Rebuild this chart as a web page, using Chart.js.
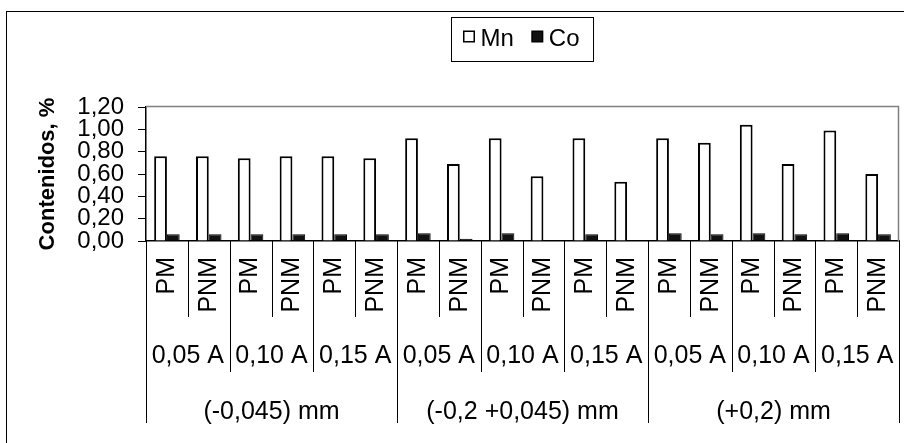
<!DOCTYPE html>
<html>
<head>
<meta charset="utf-8">
<script src="https://cdn.jsdelivr.net/npm/chart.js@4/dist/chart.umd.min.js"></script>
<style>
  body { margin: 0; background: #fff; }
  canvas { display: block; }
</style>
</head>
<body>
<canvas id="grafico" width="904" height="443"></canvas>
<script>
// niveles del eje de categorias
const tipos = ['PM', 'PNM'];
const corrientes = ['0,05 A', '0,10 A', '0,15 A'];
const fracciones = ['(-0,045) mm', '(-0,2 +0,045) mm', '(+0,2) mm'];

// contenidos en %
const mnValues = [0.76, 0.76, 0.74, 0.76, 0.76, 0.74,
                  0.92, 0.69, 0.92, 0.58, 0.92, 0.53,
                  0.92, 0.88, 1.04, 0.69, 0.99, 0.60];
const coValues = [0.06, 0.06, 0.06, 0.06, 0.06, 0.06,
                  0.07, 0.02, 0.07, 0.00, 0.06, 0.00,
                  0.07, 0.06, 0.07, 0.06, 0.07, 0.06];

const yTicks = { min: 0, max: 1.2, step: 0.2 };

const FONT = '"Liberation Sans", Arial, sans-serif';

const corrienteLabels = fracciones.flatMap(() => corrientes);
const tipoLabels = corrienteLabels.flatMap(() => tipos);

function fixedHeight(h){
    return function(scale){
        scale.height = h;
        scale.paddingLeft = 0;
        scale.paddingRight = 0;
    };
}

// marco exterior y borde gris del area del grafico
const marco = {
    id: 'marco',
    beforeDraw(chart){
        let ctx = chart.ctx;
        ctx.save();
        ctx.fillStyle = '#fff';
        ctx.fillRect(0, 0, chart.width, chart.height);
        ctx.strokeStyle = '#000';
        ctx.lineWidth = 1;
        ctx.strokeRect(6.5, 11.5, chart.width + 20, chart.height + 20);
        ctx.restore();
    },
    beforeDatasetsDraw(chart){
        let ctx = chart.ctx;
        let a = chart.chartArea;
        ctx.save();
        ctx.strokeStyle = '#808080';
        ctx.lineWidth = 1.5;
        ctx.beginPath();
        ctx.moveTo(a.left, a.top - 0.5);
        ctx.lineTo(a.right - 0.5, a.top - 0.5);
        ctx.lineTo(a.right - 0.5, a.bottom);
        ctx.stroke();
        ctx.restore();
    }
};

// lineas divisorias del eje de categorias por niveles
const divisiones = {
    id: 'divisiones',
    afterDraw(chart){
        let ctx = chart.ctx;
        let x = chart.scales.x, x2 = chart.scales.x2, x3 = chart.scales.x3;
        let porPar = tipoLabels.length / corrienteLabels.length;
        let porGrupo = tipoLabels.length / fracciones.length;
        ctx.save();
        ctx.strokeStyle = '#000';
        ctx.lineWidth = 1;
        for(let i = 0; i <= tipoLabels.length; i++){
            let px = Math.round(x.getPixelForValue(i - 0.5)) + 0.5;
            let fin = x.bottom;
            if(i % porGrupo === 0) fin = x3.bottom - 20;
            else if(i % porPar === 0) fin = x2.bottom;
            ctx.beginPath();
            ctx.moveTo(px, x.top);
            ctx.lineTo(px, fin);
            ctx.stroke();
        }
        ctx.restore();
    }
};

// leyenda con recuadro, centrada sobre el area del grafico
const leyenda = {
    id: 'leyenda',
    afterDraw(chart){
        let ctx = chart.ctx;
        let a = chart.chartArea;
        ctx.save();
        ctx.font = '24px ' + FONT;
        let box = 11, gap = 6, sep = 18, padX = 12;
        let items = chart.data.datasets.map(ds => ({
            label: ds.label,
            fill: ds.backgroundColor,
            w: ctx.measureText(ds.label).width
        }));
        let total = 0;
        items.forEach((it, i) => { total += box + gap + it.w + (i > 0 ? sep : 0); });
        let frameW = total + padX * 2 + 2;
        let left = Math.round((a.left + a.right) / 2 - frameW / 2) + 0.5;
        ctx.strokeStyle = '#000';
        ctx.lineWidth = 1;
        ctx.strokeRect(left, 17.5, frameW, 44);
        let cx = left + padX;
        ctx.textBaseline = 'middle';
        ctx.textAlign = 'left';
        items.forEach(it => {
            ctx.fillStyle = it.fill;
            ctx.fillRect(cx, 31, box, box);
            ctx.lineWidth = 1.5;
            ctx.strokeRect(cx + 0.25, 31.25, box - 0.5, box - 0.5);
            ctx.fillStyle = '#000';
            ctx.fillText(it.label, cx + box + gap, 39.5);
            cx += box + gap + it.w + sep;
        });
        ctx.restore();
    }
};

function contenidosChart(id){
    const data = {
        labels: tipoLabels,
        datasets: [{
            label: 'Mn',
            data: mnValues,
            backgroundColor: '#ffffff',
            borderColor: '#000000',
            borderWidth: 2
        }, {
            label: 'Co',
            data: coValues,
            backgroundColor: '#111111',
            borderColor: '#000000',
            borderWidth: 1
        }]
    };

    const config = {
        type: 'bar',
        data: data,
        options: {
            responsive: false,
            animation: false,
            layout: { padding: { left: 0, right: 5, top: 107, bottom: 0 } },
            datasets: { bar: { categoryPercentage: 0.61, barPercentage: 1 } },
            plugins: {
                legend: { display: false },
                tooltip: { enabled: false }
            },
            scales: {
                x: {
                    type: 'category',
                    offset: true,
                    grid: { display: true, drawOnChartArea: false, drawTicks: false },
                    border: { color: '#000', width: 1.5 },
                    ticks: {
                        color: '#000', font: { size: 25 }, padding: 16,
                        minRotation: 90, maxRotation: 90, autoSkip: false
                    },
                    afterFit: fixedHeight(76)
                },
                x2: {
                    type: 'category',
                    position: 'bottom',
                    labels: corrienteLabels,
                    offset: true,
                    grid: { display: false },
                    border: { display: false },
                    ticks: {
                        color: '#000', font: { size: 25 }, padding: 16,
                        minRotation: 0, maxRotation: 0, autoSkip: false
                    },
                    afterFit: fixedHeight(55)
                },
                x3: {
                    type: 'category',
                    position: 'bottom',
                    labels: fracciones,
                    offset: true,
                    grid: { display: false },
                    border: { display: false },
                    ticks: {
                        color: '#000', font: { size: 25 }, padding: 17,
                        minRotation: 0, maxRotation: 0, autoSkip: false
                    },
                    afterFit: fixedHeight(71)
                },
                y: {
                    min: yTicks.min,
                    max: yTicks.max,
                    grid: { drawOnChartArea: false, tickLength: 8, color: '#000' },
                    border: { color: '#000', width: 1.5 },
                    ticks: {
                        stepSize: yTicks.step,
                        autoSkip: false,
                        color: '#000',
                        font: { size: 24 },
                        padding: 14,
                        callback: v => v.toFixed(2).replace('.', ',')
                    },
                    title: {
                        display: true,
                        text: 'Contenidos, %',
                        color: '#000',
                        font: { size: 22, weight: 'bold' },
                        padding: { top: 35, bottom: 0 }
                    },
                    afterFit: function(scale){ scale.width = 146; }
                }
            }
        },
        plugins: [marco, divisiones, leyenda]
    };

    Chart.defaults.font.family = FONT;
    let ctx = document.getElementById(id).getContext('2d');
    new Chart(ctx, config);
}

contenidosChart('grafico');
</script>
</body>
</html>
